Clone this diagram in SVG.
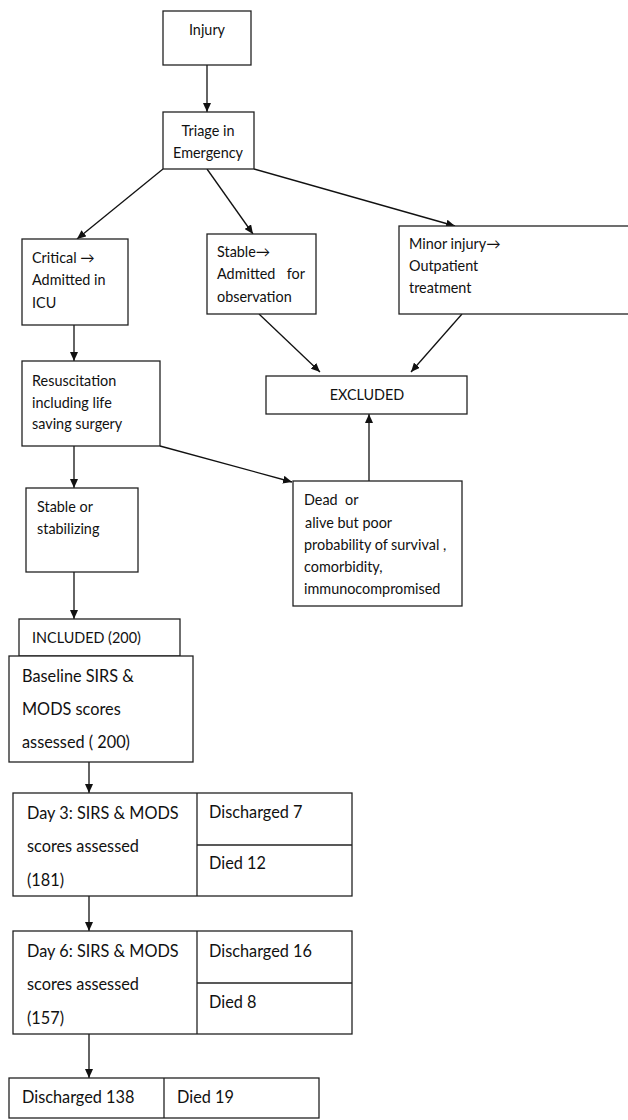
<svg xmlns="http://www.w3.org/2000/svg" width="628" height="1120" viewBox="0 0 628 1120">
<style>
  .box { fill: #fff; stroke: #222; stroke-width: 1.3; }
  .t { font-family: Lato, "Liberation Sans", sans-serif; font-size: 14.4px; fill: #111; }
  .tb { font-family: Lato, "Liberation Sans", sans-serif; font-size: 16.3px; fill: #111; }
  .c { text-anchor: middle; }
  .edge { stroke: #111; stroke-width: 1.3; fill: none; marker-end: url(#ah); }
</style>
<defs>
  <marker id="ah" markerUnits="userSpaceOnUse" markerWidth="10" markerHeight="8" refX="9" refY="4" orient="auto">
    <path d="M0,0 L9,4 L0,8 z" fill="#111"/>
  </marker>
</defs>
<rect width="628" height="1120" fill="#fff"/>

<g id="connectors">
  <line class="edge" x1="207" y1="65" x2="207" y2="112"/>
  <line class="edge" x1="163" y1="169" x2="77" y2="239"/>
  <line class="edge" x1="207" y1="169" x2="253" y2="234"/>
  <line class="edge" x1="254" y1="169" x2="455" y2="226"/>
  <line class="edge" x1="74" y1="325" x2="74" y2="361"/>
  <line class="edge" x1="259" y1="314" x2="320" y2="372"/>
  <line class="edge" x1="462" y1="314" x2="411" y2="372"/>
  <line class="edge" x1="74" y1="446" x2="74" y2="488"/>
  <line class="edge" x1="160" y1="446" x2="292" y2="482"/>
  <line class="edge" x1="369" y1="481" x2="369" y2="414"/>
  <line class="edge" x1="74" y1="572" x2="74" y2="619"/>
  <line class="edge" x1="89" y1="762" x2="89" y2="793"/>
  <line class="edge" x1="89" y1="896" x2="89" y2="931"/>
  <line class="edge" x1="89" y1="1034" x2="89" y2="1078"/>
</g>

<g id="injury">
  <rect class="box" x="163" y="11" width="88" height="54"/>
  <text class="t c" x="207" y="35">Injury</text>
</g>

<g id="triage">
  <rect class="box" x="163" y="112" width="91" height="57"/>
  <text class="t c" x="208" y="136">Triage in</text>
  <text class="t c" x="208" y="158">Emergency</text>
</g>

<g id="critical">
  <rect class="box" x="22" y="239" width="106" height="86"/>
  <text class="t" x="32" y="263">Critical →</text>
  <text class="t" x="32" y="285">Admitted in</text>
  <text class="t" x="32" y="308">ICU</text>
</g>

<g id="stable">
  <rect class="box" x="207" y="234" width="109" height="80"/>
  <text class="t" x="217" y="257">Stable→</text>
  <text class="t" x="217" y="279">Admitted<tspan x="305" text-anchor="end">for</tspan></text>
  <text class="t" x="217" y="302">observation</text>
</g>

<g id="minor">
  <rect class="box" x="399" y="226" width="240" height="88"/>
  <text class="t" x="409" y="249">Minor injury→</text>
  <text class="t" x="409" y="271">Outpatient</text>
  <text class="t" x="409" y="293">treatment</text>
</g>

<g id="excluded">
  <rect class="box" x="266" y="376" width="201" height="38"/>
  <text class="t c" x="367" y="400">EXCLUDED</text>
</g>

<g id="resuscitation">
  <rect class="box" x="22" y="361" width="138" height="85"/>
  <text class="t" x="32" y="386">Resuscitation</text>
  <text class="t" x="32" y="408">including life</text>
  <text class="t" x="32" y="429">saving surgery</text>
</g>

<g id="stabilizing">
  <rect class="box" x="26" y="488" width="112" height="84"/>
  <text class="t" x="37" y="512">Stable or</text>
  <text class="t" x="37" y="534">stabilizing</text>
</g>

<g id="dead">
  <rect class="box" x="293" y="481" width="169" height="125"/>
  <text class="t" x="304" y="505" xml:space="preserve">Dead  or</text>
  <text class="t" x="305" y="528">alive but poor</text>
  <text class="t" x="304" y="550">probability of survival ,</text>
  <text class="t" x="304" y="572">comorbidity,</text>
  <text class="t" x="304" y="594">immunocompromised</text>
</g>

<g id="included">
  <rect class="box" x="19" y="619" width="161" height="37"/>
  <text class="t" x="32" y="643">INCLUDED (200)</text>
</g>

<g id="baseline">
  <rect class="box" x="9" y="656" width="184" height="106"/>
  <text class="tb" x="22" y="682">Baseline SIRS &amp;</text>
  <text class="tb" x="22" y="715">MODS scores</text>
  <text class="tb" x="22" y="748">assessed ( 200)</text>
</g>

<g id="day3">
  <rect class="box" x="13" y="793" width="339" height="103"/>
  <line class="box" x1="197" y1="793" x2="197" y2="896"/>
  <line class="box" x1="197" y1="845" x2="352" y2="845"/>
  <text class="tb" x="27" y="819">Day 3: SIRS &amp; MODS</text>
  <text class="tb" x="27" y="852">scores assessed</text>
  <text class="tb" x="27" y="886">(181)</text>
  <text class="tb" x="209" y="818">Discharged 7</text>
  <text class="tb" x="209" y="869">Died 12</text>
</g>

<g id="day6">
  <rect class="box" x="13" y="931" width="339" height="103"/>
  <line class="box" x1="197" y1="931" x2="197" y2="1034"/>
  <line class="box" x1="197" y1="983" x2="352" y2="983"/>
  <text class="tb" x="27" y="957">Day 6: SIRS &amp; MODS</text>
  <text class="tb" x="27" y="990">scores assessed</text>
  <text class="tb" x="27" y="1024">(157)</text>
  <text class="tb" x="209" y="957">Discharged 16</text>
  <text class="tb" x="209" y="1008">Died 8</text>
</g>

<g id="final">
  <rect class="box" x="9" y="1078" width="310" height="40"/>
  <line class="box" x1="164" y1="1078" x2="164" y2="1118"/>
  <text class="tb" x="22" y="1103">Discharged 138</text>
  <text class="tb" x="177" y="1103">Died 19</text>
</g>
</svg>
